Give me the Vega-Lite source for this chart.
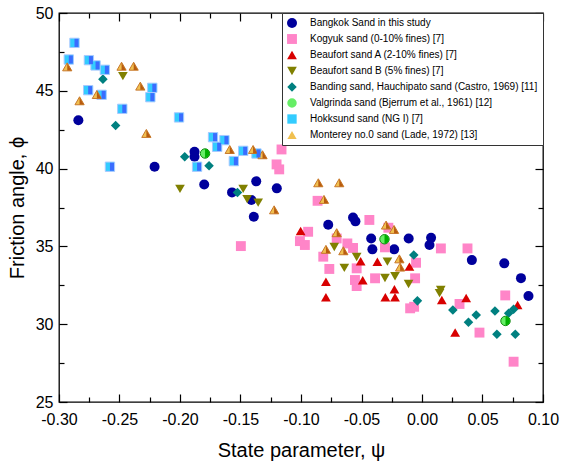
{
  "$schema": "https://vega.github.io/schema/vega-lite/v6.json",
  "width": 484,
  "height": 389,
  "autosize": {"type": "none"},
  "padding": {"left": 59, "top": 13, "right": 18, "bottom": 63},
  "background": "white",
  "config": {
    "view": {"stroke": "black", "strokeWidth": 1.3},
    "font": "Liberation Sans",
    "axis": {"domain": false, "grid": false, "tickColor": "black", "tickWidth": 1.2, "labelColor": "black", "titleColor": "black", "labelFont": "Liberation Sans", "titleFont": "Liberation Sans", "labelFontSize": 16, "titleFontSize": 20, "titleFontWeight": "normal", "labelOverlap": false, "labelFlush": false, "labelBound": false}
  },
  "data": {"values": [
    {"sand": "Bangkok Sand in this study", "psi": -0.284, "phi": 43.11},
    {"sand": "Bangkok Sand in this study", "psi": -0.221, "phi": 40.12},
    {"sand": "Bangkok Sand in this study", "psi": -0.188, "phi": 41.08},
    {"sand": "Bangkok Sand in this study", "psi": -0.188, "phi": 40.76},
    {"sand": "Bangkok Sand in this study", "psi": -0.180, "phi": 38.98},
    {"sand": "Bangkok Sand in this study", "psi": -0.157, "phi": 38.47},
    {"sand": "Bangkok Sand in this study", "psi": -0.137, "phi": 39.18},
    {"sand": "Bangkok Sand in this study", "psi": -0.141, "phi": 37.98},
    {"sand": "Bangkok Sand in this study", "psi": -0.139, "phi": 36.91},
    {"sand": "Bangkok Sand in this study", "psi": -0.120, "phi": 38.73},
    {"sand": "Bangkok Sand in this study", "psi": -0.0775, "phi": 36.39},
    {"sand": "Bangkok Sand in this study", "psi": -0.057, "phi": 36.86},
    {"sand": "Bangkok Sand in this study", "psi": -0.055, "phi": 36.61},
    {"sand": "Bangkok Sand in this study", "psi": -0.042, "phi": 35.51},
    {"sand": "Bangkok Sand in this study", "psi": -0.041, "phi": 34.81},
    {"sand": "Bangkok Sand in this study", "psi": -0.023, "phi": 34.81},
    {"sand": "Bangkok Sand in this study", "psi": -0.011, "phi": 35.51},
    {"sand": "Bangkok Sand in this study", "psi": 0.0075, "phi": 35.55},
    {"sand": "Bangkok Sand in this study", "psi": 0.0062, "phi": 35.09},
    {"sand": "Bangkok Sand in this study", "psi": 0.0412, "phi": 34.12},
    {"sand": "Bangkok Sand in this study", "psi": 0.068, "phi": 33.91},
    {"sand": "Bangkok Sand in this study", "psi": 0.0818, "phi": 32.96},
    {"sand": "Bangkok Sand in this study", "psi": 0.088, "phi": 31.81},
    {"sand": "Kogyuk sand (0-10% fines) [7]", "psi": -0.1161, "phi": 41.23},
    {"sand": "Kogyuk sand (0-10% fines) [7]", "psi": -0.1202, "phi": 40.27},
    {"sand": "Kogyuk sand (0-10% fines) [7]", "psi": -0.118, "phi": 39.95},
    {"sand": "Kogyuk sand (0-10% fines) [7]", "psi": -0.1497, "phi": 35.02},
    {"sand": "Kogyuk sand (0-10% fines) [7]", "psi": -0.0863, "phi": 37.93},
    {"sand": "Kogyuk sand (0-10% fines) [7]", "psi": -0.0941, "phi": 35.94},
    {"sand": "Kogyuk sand (0-10% fines) [7]", "psi": -0.1009, "phi": 35.34},
    {"sand": "Kogyuk sand (0-10% fines) [7]", "psi": -0.0968, "phi": 35.09},
    {"sand": "Kogyuk sand (0-10% fines) [7]", "psi": -0.0705, "phi": 35.51},
    {"sand": "Kogyuk sand (0-10% fines) [7]", "psi": -0.0617, "phi": 35.19},
    {"sand": "Kogyuk sand (0-10% fines) [7]", "psi": -0.057, "phi": 34.9},
    {"sand": "Kogyuk sand (0-10% fines) [7]", "psi": -0.0816, "phi": 34.34},
    {"sand": "Kogyuk sand (0-10% fines) [7]", "psi": -0.0766, "phi": 33.55},
    {"sand": "Kogyuk sand (0-10% fines) [7]", "psi": -0.054, "phi": 33.59},
    {"sand": "Kogyuk sand (0-10% fines) [7]", "psi": -0.0554, "phi": 32.84},
    {"sand": "Kogyuk sand (0-10% fines) [7]", "psi": -0.054, "phi": 32.45},
    {"sand": "Kogyuk sand (0-10% fines) [7]", "psi": -0.0388, "phi": 32.95},
    {"sand": "Kogyuk sand (0-10% fines) [7]", "psi": -0.0435, "phi": 36.70},
    {"sand": "Kogyuk sand (0-10% fines) [7]", "psi": -0.0278, "phi": 36.2},
    {"sand": "Kogyuk sand (0-10% fines) [7]", "psi": -0.0306, "phi": 34.94},
    {"sand": "Kogyuk sand (0-10% fines) [7]", "psi": -0.0049, "phi": 33.95},
    {"sand": "Kogyuk sand (0-10% fines) [7]", "psi": -0.0057, "phi": 32.95},
    {"sand": "Kogyuk sand (0-10% fines) [7]", "psi": -0.0098, "phi": 31.02},
    {"sand": "Kogyuk sand (0-10% fines) [7]", "psi": -0.0065, "phi": 31.12},
    {"sand": "Kogyuk sand (0-10% fines) [7]", "psi": 0.0156, "phi": 34.87},
    {"sand": "Kogyuk sand (0-10% fines) [7]", "psi": 0.0376, "phi": 34.87},
    {"sand": "Kogyuk sand (0-10% fines) [7]", "psi": 0.031, "phi": 31.30},
    {"sand": "Kogyuk sand (0-10% fines) [7]", "psi": 0.0475, "phi": 29.46},
    {"sand": "Kogyuk sand (0-10% fines) [7]", "psi": 0.0688, "phi": 31.85},
    {"sand": "Kogyuk sand (0-10% fines) [7]", "psi": 0.0757, "phi": 27.59},
    {"sand": "Beaufort sand A (2-10% fines) [7]", "psi": -0.1003, "phi": 35.99},
    {"sand": "Beaufort sand A (2-10% fines) [7]", "psi": -0.0794, "phi": 32.73},
    {"sand": "Beaufort sand A (2-10% fines) [7]", "psi": -0.0794, "phi": 31.73},
    {"sand": "Beaufort sand A (2-10% fines) [7]", "psi": -0.0507, "phi": 34.05},
    {"sand": "Beaufort sand A (2-10% fines) [7]", "psi": -0.049, "phi": 32.82},
    {"sand": "Beaufort sand A (2-10% fines) [7]", "psi": -0.0369, "phi": 34.02},
    {"sand": "Beaufort sand A (2-10% fines) [7]", "psi": -0.0303, "phi": 31.73},
    {"sand": "Beaufort sand A (2-10% fines) [7]", "psi": -0.0228, "phi": 32.24},
    {"sand": "Beaufort sand A (2-10% fines) [7]", "psi": -0.0223, "phi": 31.73},
    {"sand": "Beaufort sand A (2-10% fines) [7]", "psi": -0.0104, "phi": 33.70},
    {"sand": "Beaufort sand A (2-10% fines) [7]", "psi": 0.0164, "phi": 31.56},
    {"sand": "Beaufort sand A (2-10% fines) [7]", "psi": 0.0365, "phi": 31.69},
    {"sand": "Beaufort sand A (2-10% fines) [7]", "psi": 0.0274, "phi": 29.46},
    {"sand": "Beaufort sand A (2-10% fines) [7]", "psi": 0.079, "phi": 31.23},
    {"sand": "Beaufort sand B (5% fines) [7]", "psi": -0.2472, "phi": 45.94},
    {"sand": "Beaufort sand B (5% fines) [7]", "psi": -0.200, "phi": 38.70},
    {"sand": "Beaufort sand B (5% fines) [7]", "psi": -0.1478, "phi": 38.70},
    {"sand": "Beaufort sand B (5% fines) [7]", "psi": -0.1445, "phi": 38.04},
    {"sand": "Beaufort sand B (5% fines) [7]", "psi": -0.1354, "phi": 37.81},
    {"sand": "Beaufort sand B (5% fines) [7]", "psi": -0.0725, "phi": 34.96},
    {"sand": "Beaufort sand B (5% fines) [7]", "psi": -0.0642, "phi": 33.62},
    {"sand": "Beaufort sand B (5% fines) [7]", "psi": -0.054, "phi": 34.32},
    {"sand": "Beaufort sand B (5% fines) [7]", "psi": -0.0286, "phi": 34.02},
    {"sand": "Beaufort sand B (5% fines) [7]", "psi": -0.0306, "phi": 32.97},
    {"sand": "Beaufort sand B (5% fines) [7]", "psi": -0.0223, "phi": 33.08},
    {"sand": "Beaufort sand B (5% fines) [7]", "psi": -0.0111, "phi": 32.58},
    {"sand": "Beaufort sand B (5% fines) [7]", "psi": 0.0155, "phi": 32.2},
    {"sand": "Beaufort sand B (5% fines) [7]", "psi": 0.0145, "phi": 32.0},
    {"sand": "Banding sand, Hauchipato sand (Castro, 1969) [11]", "psi": -0.2637, "phi": 45.75},
    {"sand": "Banding sand, Hauchipato sand (Castro, 1969) [11]", "psi": -0.2532, "phi": 42.77},
    {"sand": "Banding sand, Hauchipato sand (Castro, 1969) [11]", "psi": -0.1961, "phi": 40.76},
    {"sand": "Banding sand, Hauchipato sand (Castro, 1969) [11]", "psi": -0.176, "phi": 40.18},
    {"sand": "Banding sand, Hauchipato sand (Castro, 1969) [11]", "psi": -0.1525, "phi": 38.47},
    {"sand": "Banding sand, Hauchipato sand (Castro, 1969) [11]", "psi": -0.0068, "phi": 34.45},
    {"sand": "Banding sand, Hauchipato sand (Castro, 1969) [11]", "psi": -0.0038, "phi": 31.5},
    {"sand": "Banding sand, Hauchipato sand (Castro, 1969) [11]", "psi": 0.0255, "phi": 30.91},
    {"sand": "Banding sand, Hauchipato sand (Castro, 1969) [11]", "psi": 0.0384, "phi": 30.13},
    {"sand": "Banding sand, Hauchipato sand (Castro, 1969) [11]", "psi": 0.0448, "phi": 30.59},
    {"sand": "Banding sand, Hauchipato sand (Castro, 1969) [11]", "psi": 0.0603, "phi": 30.85},
    {"sand": "Banding sand, Hauchipato sand (Castro, 1969) [11]", "psi": 0.0619, "phi": 29.35},
    {"sand": "Banding sand, Hauchipato sand (Castro, 1969) [11]", "psi": 0.0716, "phi": 30.70},
    {"sand": "Banding sand, Hauchipato sand (Castro, 1969) [11]", "psi": 0.0757, "phi": 30.96},
    {"sand": "Banding sand, Hauchipato sand (Castro, 1969) [11]", "psi": 0.0771, "phi": 29.35},
    {"sand": "Valgrinda sand (Bjerrum et al., 1961) [12]", "psi": -0.1793, "phi": 40.97},
    {"sand": "Valgrinda sand (Bjerrum et al., 1961) [12]", "psi": -0.031, "phi": 35.46},
    {"sand": "Valgrinda sand (Bjerrum et al., 1961) [12]", "psi": 0.069, "phi": 30.21},
    {"sand": "Hokksund sand (NG I) [7]", "psi": -0.2872, "phi": 48.08},
    {"sand": "Hokksund sand (NG I) [7]", "psi": -0.2919, "phi": 47.01},
    {"sand": "Hokksund sand (NG I) [7]", "psi": -0.2753, "phi": 46.97},
    {"sand": "Hokksund sand (NG I) [7]", "psi": -0.2698, "phi": 46.63},
    {"sand": "Hokksund sand (NG I) [7]", "psi": -0.2621, "phi": 46.35},
    {"sand": "Hokksund sand (NG I) [7]", "psi": -0.2759, "phi": 45.04},
    {"sand": "Hokksund sand (NG I) [7]", "psi": -0.2648, "phi": 44.74},
    {"sand": "Hokksund sand (NG I) [7]", "psi": -0.2477, "phi": 43.84},
    {"sand": "Hokksund sand (NG I) [7]", "psi": -0.2229, "phi": 45.19},
    {"sand": "Hokksund sand (NG I) [7]", "psi": -0.2245, "phi": 44.59},
    {"sand": "Hokksund sand (NG I) [7]", "psi": -0.2008, "phi": 43.29},
    {"sand": "Hokksund sand (NG I) [7]", "psi": -0.2579, "phi": 40.12},
    {"sand": "Hokksund sand (NG I) [7]", "psi": -0.1727, "phi": 42.02},
    {"sand": "Hokksund sand (NG I) [7]", "psi": -0.1693, "phi": 41.40},
    {"sand": "Hokksund sand (NG I) [7]", "psi": -0.1633, "phi": 41.83},
    {"sand": "Hokksund sand (NG I) [7]", "psi": -0.1478, "phi": 41.14},
    {"sand": "Hokksund sand (NG I) [7]", "psi": -0.1368, "phi": 40.97},
    {"sand": "Hokksund sand (NG I) [7]", "psi": -0.1555, "phi": 40.48},
    {"sand": "Hokksund sand (NG I) [7]", "psi": -0.1859, "phi": 40.12},
    {"sand": "Monterey no.0 sand (Lade, 1972) [13]", "psi": -0.2932, "phi": 46.54},
    {"sand": "Monterey no.0 sand (Lade, 1972) [13]", "psi": -0.283, "phi": 44.36},
    {"sand": "Monterey no.0 sand (Lade, 1972) [13]", "psi": -0.2687, "phi": 44.76},
    {"sand": "Monterey no.0 sand (Lade, 1972) [13]", "psi": -0.2483, "phi": 46.58},
    {"sand": "Monterey no.0 sand (Lade, 1972) [13]", "psi": -0.2383, "phi": 46.58},
    {"sand": "Monterey no.0 sand (Lade, 1972) [13]", "psi": -0.2328, "phi": 45.30},
    {"sand": "Monterey no.0 sand (Lade, 1972) [13]", "psi": -0.2278, "phi": 42.26},
    {"sand": "Monterey no.0 sand (Lade, 1972) [13]", "psi": -0.1589, "phi": 41.23},
    {"sand": "Monterey no.0 sand (Lade, 1972) [13]", "psi": -0.1396, "phi": 41.23},
    {"sand": "Monterey no.0 sand (Lade, 1972) [13]", "psi": -0.1318, "phi": 40.89},
    {"sand": "Monterey no.0 sand (Lade, 1972) [13]", "psi": -0.1222, "phi": 37.35},
    {"sand": "Monterey no.0 sand (Lade, 1972) [13]", "psi": -0.0857, "phi": 39.09},
    {"sand": "Monterey no.0 sand (Lade, 1972) [13]", "psi": -0.0684, "phi": 39.09},
    {"sand": "Monterey no.0 sand (Lade, 1972) [13]", "psi": -0.081, "phi": 38.02},
    {"sand": "Monterey no.0 sand (Lade, 1972) [13]", "psi": -0.0705, "phi": 35.88},
    {"sand": "Monterey no.0 sand (Lade, 1972) [13]", "psi": -0.0794, "phi": 34.81},
    {"sand": "Monterey no.0 sand (Lade, 1972) [13]", "psi": -0.065, "phi": 34.72},
    {"sand": "Monterey no.0 sand (Lade, 1972) [13]", "psi": -0.0297, "phi": 36.37},
    {"sand": "Monterey no.0 sand (Lade, 1972) [13]", "psi": -0.0231, "phi": 36.09},
    {"sand": "Monterey no.0 sand (Lade, 1972) [13]", "psi": -0.0187, "phi": 34.2},
    {"sand": "Monterey no.0 sand (Lade, 1972) [13]", "psi": -0.0181, "phi": 33.67}
  ]},
  "resolve": {
    "axis": {"x": "independent", "y": "independent"},
    "scale": {"shape": "independent", "color": "independent", "size": "independent"}
  },
  "layer": [
    {
      "mark": {"type": "point", "filled": true, "opacity": 1, "strokeWidth": 1},
      "encoding": {
        "x": {"field": "psi", "type": "quantitative",
          "scale": {"domain": [-0.3, 0.1], "nice": false, "zero": false},
          "axis": {"orient": "bottom", "title": "State parameter, ψ", "titlePadding": 10,
            "values": [-0.3, -0.275, -0.25, -0.225, -0.2, -0.175, -0.15, -0.125, -0.1, -0.075, -0.05, -0.025, 0, 0.025, 0.05, 0.075, 0.1],
            "labelExpr": "abs(round(datum.value*40)) % 2 == 0 ? replace(format(datum.value, '.2f'), '\u2212', '-') : ''",
            "tickSize": {"condition": {"test": "abs(round(datum.value*40)) % 2 == 1", "value": -5}, "value": -8},
            "labelPadding": 17}},
        "y": {"field": "phi", "type": "quantitative",
          "scale": {"domain": [25, 50], "nice": false, "zero": false},
          "axis": {"orient": "left", "title": "Friction angle, ϕ", "titlePadding": 8,
            "values": [25, 27.5, 30, 32.5, 35, 37.5, 40, 42.5, 45, 47.5, 50],
            "labelExpr": "datum.value % 5 == 0 ? format(datum.value, 'd') : ''",
            "tickSize": {"condition": {"test": "datum.value % 5 != 0", "value": -5}, "value": -8},
            "labelPadding": 14}},
        "shape": {"field": "sand", "type": "nominal",
          "scale": {"domain": ["Bangkok Sand in this study", "Kogyuk sand (0-10% fines) [7]", "Beaufort sand A (2-10% fines) [7]", "Beaufort sand B (5% fines) [7]", "Banding sand, Hauchipato sand (Castro, 1969) [11]", "Valgrinda sand (Bjerrum et al., 1961) [12]", "Hokksund sand (NG I) [7]", "Monterey no.0 sand (Lade, 1972) [13]"],
            "range": ["circle", "square", "triangle-up", "triangle-down", "diamond", "circle", "square", "triangle-up"]},
          "legend": {"title": null, "orient": "top-right", "offset": 0, "padding": 5, "rowPadding": 6, "labelFontSize": 10, "labelFont": "Liberation Sans", "labelColor": "black", "labelOffset": 13, "symbolSize": 120, "symbolStrokeWidth": 0, "strokeColor": "#333333", "fillColor": "white", "labelLimit": 400}},
        "color": {"field": "sand", "type": "nominal",
          "scale": {"domain": ["Bangkok Sand in this study", "Kogyuk sand (0-10% fines) [7]", "Beaufort sand A (2-10% fines) [7]", "Beaufort sand B (5% fines) [7]", "Banding sand, Hauchipato sand (Castro, 1969) [11]", "Valgrinda sand (Bjerrum et al., 1961) [12]", "Hokksund sand (NG I) [7]", "Monterey no.0 sand (Lade, 1972) [13]"],
            "range": ["#00009c", "#ff85c8", "#d80000", "#808000", "#008080", "#66ee66", "#33ccff", "#f0c050"]},
          "legend": {"title": null, "orient": "top-right", "offset": 0, "padding": 5, "rowPadding": 6, "labelFontSize": 10, "labelFont": "Liberation Sans", "labelColor": "black", "labelOffset": 13, "symbolSize": 120, "symbolStrokeWidth": 0, "strokeColor": "#333333", "fillColor": "white", "labelLimit": 400}},
        "size": {"field": "sand", "type": "nominal", "legend": null,
          "scale": {"domain": ["Bangkok Sand in this study", "Kogyuk sand (0-10% fines) [7]", "Beaufort sand A (2-10% fines) [7]", "Beaufort sand B (5% fines) [7]", "Banding sand, Hauchipato sand (Castro, 1969) [11]", "Valgrinda sand (Bjerrum et al., 1961) [12]", "Hokksund sand (NG I) [7]", "Monterey no.0 sand (Lade, 1972) [13]"],
            "range": [100, 85, 165, 165, 140, 95, 85, 165]}},
        "stroke": {"condition": [
          {"test": "datum.sand === 'Hokksund sand (NG I) [7]'", "value": "#a8c8ff"},
          {"test": "datum.sand === 'Monterey no.0 sand (Lade, 1972) [13]'", "value": "#c8782a"},
          {"test": "datum.sand === 'Valgrinda sand (Bjerrum et al., 1961) [12]'", "value": "#118811"}],
          "value": "transparent"}
      }
    },
    {
      "transform": [{"filter": {"field": "sand", "oneOf": ["Valgrinda sand (Bjerrum et al., 1961) [12]", "Hokksund sand (NG I) [7]", "Monterey no.0 sand (Lade, 1972) [13]"]}}],
      "mark": {"type": "point", "filled": true, "opacity": 1, "strokeWidth": 0},
      "encoding": {
        "x": {"field": "psi", "type": "quantitative",
          "axis": {"orient": "top", "title": null, "labels": false,
            "values": [-0.3, -0.275, -0.25, -0.225, -0.2, -0.175, -0.15, -0.125, -0.1, -0.075, -0.05, -0.025, 0, 0.025, 0.05, 0.075, 0.1],
            "tickSize": {"condition": {"test": "abs(round(datum.value*40)) % 2 == 1", "value": -5}, "value": -8}}},
        "y": {"field": "phi", "type": "quantitative",
          "axis": {"orient": "right", "title": null, "labels": false,
            "values": [25, 27.5, 30, 32.5, 35, 37.5, 40, 42.5, 45, 47.5, 50],
            "tickSize": {"condition": {"test": "datum.value % 5 != 0", "value": -5}, "value": -8}}},
        "shape": {"field": "sand", "type": "nominal", "legend": null,
          "scale": {"domain": ["Valgrinda sand (Bjerrum et al., 1961) [12]", "Hokksund sand (NG I) [7]", "Monterey no.0 sand (Lade, 1972) [13]"],
            "range": ["M0,-0.9A0.9,0.9,0,0,1,0,0.9Z", "M0,-0.85L0.85,-0.85L0.85,0.85L0,0.85Z", "M0,-0.75L0.9,0.8L0,0.8Z"]}},
        "color": {"field": "sand", "type": "nominal", "legend": null,
          "scale": {"domain": ["Valgrinda sand (Bjerrum et al., 1961) [12]", "Hokksund sand (NG I) [7]", "Monterey no.0 sand (Lade, 1972) [13]"],
            "range": ["#00b000", "#3a6cff", "#b85c10"]}},
        "size": {"field": "sand", "type": "nominal", "legend": null,
          "scale": {"domain": ["Valgrinda sand (Bjerrum et al., 1961) [12]", "Hokksund sand (NG I) [7]", "Monterey no.0 sand (Lade, 1972) [13]"],
            "range": [95, 85, 165]}}
      }
    }
  ]
}
